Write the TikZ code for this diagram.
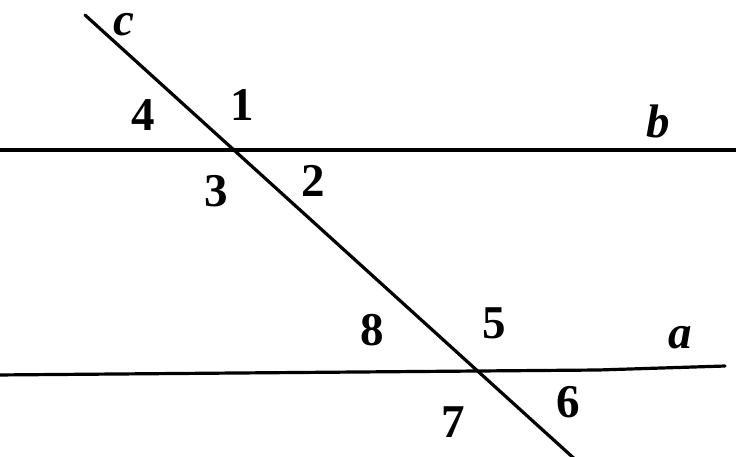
\documentclass[tikz,border=0pt]{standalone}
\usepackage{fontspec}
\setmainfont{Liberation Serif}
\begin{document}
\begin{tikzpicture}[
        x=1pt, y=-1pt, % unita' in pixel del disegno
        retta/.style={line width=3.2pt, line cap=round},
        angolo/.style={font=\fontsize{47}{47}\selectfont\bfseries, inner sep=0pt},
        nome/.style={font=\fontsize{47}{47}\selectfont\bfseries\itshape, inner sep=0pt}
    ]
    \useasboundingbox (0,0) rectangle (736,456);
    % estremi delle rette
    \coordinate (bL) at (-5,150);
    \coordinate (bR) at (741,150);
    \coordinate (aL) at (-5,375);
    \coordinate (aM) at (598,370);
    \coordinate (aR) at (725,366);
    \coordinate (cT) at (85,15);
    \coordinate (cB) at (578,462);
    % rette
    \draw[retta] (bL) -- (bR);
    \draw[retta] (aL) -- (aM) -- (aR);
    \draw[retta] (cT) -- (cB);
    % nomi delle rette
    \node[nome] (c) at (124,25) {c};
    \node[nome] (b) at (658,121) {b};
    \node[nome] (a) at (680,338) {a};
    % angoli in alto
    \node[angolo] (n4) at (143,115) {4};
    \node[angolo] (n1) at (242,105) {1};
    \node[angolo] (n3) at (216,191) {3};
    \node[angolo] (n2) at (313,181) {2};
    % angoli in basso
    \node[angolo] (n8) at (372,330) {8};
    \node[angolo] (n5) at (494,323) {5};
    \node[angolo] (n7) at (453,422) {7};
    \node[angolo] (n6) at (568,402) {6};
\end{tikzpicture}
\end{document}
